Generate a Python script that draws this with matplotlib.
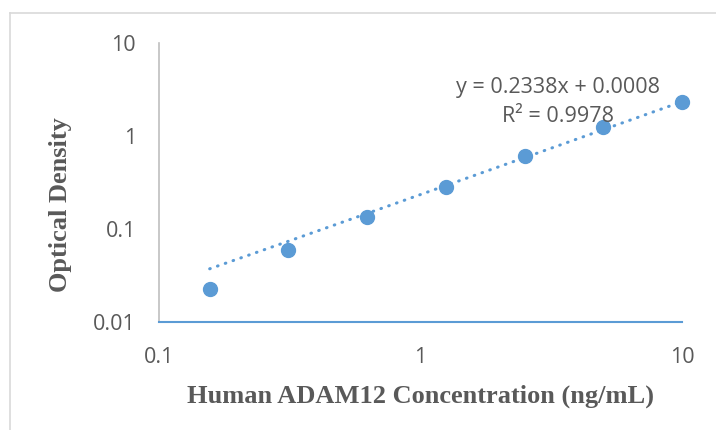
import matplotlib
matplotlib.use("Agg")
import matplotlib.pyplot as plt
from matplotlib.lines import Line2D
import numpy as np

conc = [0.15625, 0.3125, 0.625, 1.25, 2.5, 5, 10]
od = [0.0227, 0.0594, 0.1345, 0.283, 0.609, 1.25, 2.32]
slope = 0.2338
intercept = 0.0008
eq_text = "y = 0.2338x + 0.0008"
r2_text = "R² = 0.9978"
x_ticks = [0.1, 1, 10]
x_ticklabels = ["0.1", "1", "10"]
y_ticks = [0.01, 0.1, 1, 10]
y_ticklabels = ["0.01", "0.1", "1", "10"]

W, H = 716, 430
fig = plt.figure(figsize=(W / 100, H / 100), dpi=100)
ax = fig.add_axes([159 / W, 1 - 322 / H, (682 - 159) / W, (322 - 43) / H])

blue = "#5B9BD5"
grey_text = "#595959"

ax.set_xscale("log")
ax.set_yscale("log")
ax.set_xlim(0.1, 10)
ax.set_ylim(0.01, 10)

xt = np.linspace(conc[0], conc[-1], 200)
ax.plot(xt, slope * xt + intercept, linestyle=(0, (0.2, 2.5)), dash_capstyle="round",
        color=blue, linewidth=2.2, zorder=2)
ax.plot(conc, od, "o", color=blue, markersize=10, zorder=3, clip_on=False)

ax.set_xticks(x_ticks)
ax.set_xticklabels(x_ticklabels)
ax.set_yticks(y_ticks)
ax.set_yticklabels(y_ticklabels)
ax.minorticks_off()
ax.tick_params(axis="both", length=0, labelsize=15.5, labelcolor=grey_text)
ax.tick_params(axis="x", pad=18)
ax.tick_params(axis="y", pad=16.5)
for lab in ax.get_xticklabels() + ax.get_yticklabels():
    lab.set_family("Open Sans")

for s in ["top", "right"]:
    ax.spines[s].set_visible(False)
ax.spines["left"].set_color("#BFBFBF")
ax.spines["left"].set_linewidth(1.2)
ax.spines["bottom"].set_color(blue)
ax.spines["bottom"].set_linewidth(1.5)

ax.set_xlabel("Human ADAM12 Concentration (ng/mL)", family="Liberation Serif",
              fontweight="bold", fontsize=19, color=grey_text, labelpad=12)
ax.set_ylabel("Optical Density", family="Liberation Serif",
              fontweight="bold", fontsize=19, color=grey_text)
ax.yaxis.set_label_coords(-0.166, 0.421)

fig.text(558 / W, 1 - 88 / H, eq_text, ha="center", va="center",
         family="Open Sans", fontsize=15.5, color=grey_text)
fig.text(558 / W, 1 - 117 / H, r2_text, ha="center", va="center",
         family="Open Sans", fontsize=15.5, color=grey_text)

fig.add_artist(Line2D([10 / W, 1], [1 - 13 / H, 1 - 13 / H], color="#D9D9D9", linewidth=1.2))
fig.add_artist(Line2D([10 / W, 10 / W], [0, 1 - 13 / H], color="#D9D9D9", linewidth=1.2))

fig.savefig("out.png", dpi=100)
